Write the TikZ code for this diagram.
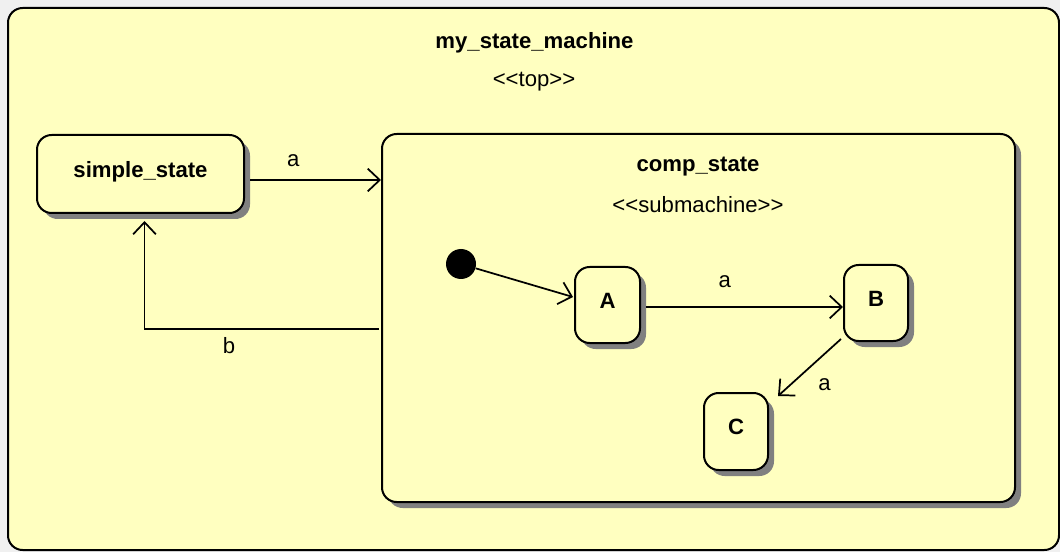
\documentclass[tikz,border=0pt]{standalone}
\usepackage{fontspec}
\setsansfont{Liberation Sans}
\usetikzlibrary{arrows.meta, shadows}

\definecolor{stfill}{RGB}{255,255,192}
\definecolor{bgcol}{RGB}{240,240,240}
\definecolor{shcol}{RGB}{128,128,128}

\begin{document}
\begin{tikzpicture}[x=0.75pt, y=-0.75pt,
	font=\sffamily\fontsize{16.6}{19}\selectfont,
	title/.style={font=\sffamily\fontsize{16.6}{19}\selectfont\bfseries},
	state/.style={draw, line width=1.5pt, fill=stfill, rounded corners=11pt,
		text height=11.5pt, text depth=6.5pt, title,
		drop shadow={shadow xshift=4.5pt, shadow yshift=-4.5pt, fill=shcol, opacity=1}},
	trans/.style={line width=1.3pt, -{Straight Barb[length=9pt, width=17pt]}},
	lbl/.style={inner sep=1pt}]
	\def\W{1060}
	\def\H{552}

	\fill[bgcol] (0,0) rectangle (\W,\H);
	\useasboundingbox (0,0) rectangle (\W,\H);
	\draw[line width=1.5pt, fill=stfill, rounded corners=11pt] (8,8) rectangle (1059,550);
	\node[title] (toptitle) at (534.5,43) {my\_state\_machine};
	\node (topst) at (534,82) {<{}<top>{}>};

	\node[state, minimum width=155.25pt, minimum height=58.5pt] (simple) at (140.5,174) {simple\_state};
	\node[state, minimum width=474.75pt, minimum height=276pt] (comp) at (698.5,318) {};
	\node[title] (comptitle) at (698,167) {comp\_state};
	\node (compst) at (698,205) {<{}<submachine>{}>};

	\node[circle, fill=black, minimum size=22.5pt, inner sep=0pt] (init) at (461,264) {};
	\node[state, minimum width=48.75pt, minimum height=57pt] (A) at (607.5,305) {A};
	\node[state, minimum width=48pt, minimum height=57pt] (B) at (876,303) {B};
	\node[state, minimum width=48pt, minimum height=57.75pt] (C) at (736,431.5) {C};

	\draw[trans] ([shift={(5,6)}]simple.east) coordinate (s1) -- (s1 -| comp.west)
		node[lbl, pos=0.33, above=8pt] (ta) {a};
	\draw[trans] ([shift={(-2,11)}]comp.west) -| ([shift={(4,7)}]simple.south)
		node[lbl, pos=0.32, below=5pt] (tb) {b};
	\draw[trans] (init) -- ([shift={(-1,-8)}]A.west);
	\draw[trans] ([shift={(5,2)}]A.east) coordinate (s2) -- (s2 -| B.west)
		node[lbl, pos=0.4, above=13pt] (tab) {a};
	\draw[trans] ([shift={(-2,-3)}]B.south west) -- ([shift={(9,4)}]C.north east)
		node[lbl, pos=0.5, anchor=north west, xshift=5pt, yshift=-7pt] (tbc) {a};
\end{tikzpicture}
\end{document}
